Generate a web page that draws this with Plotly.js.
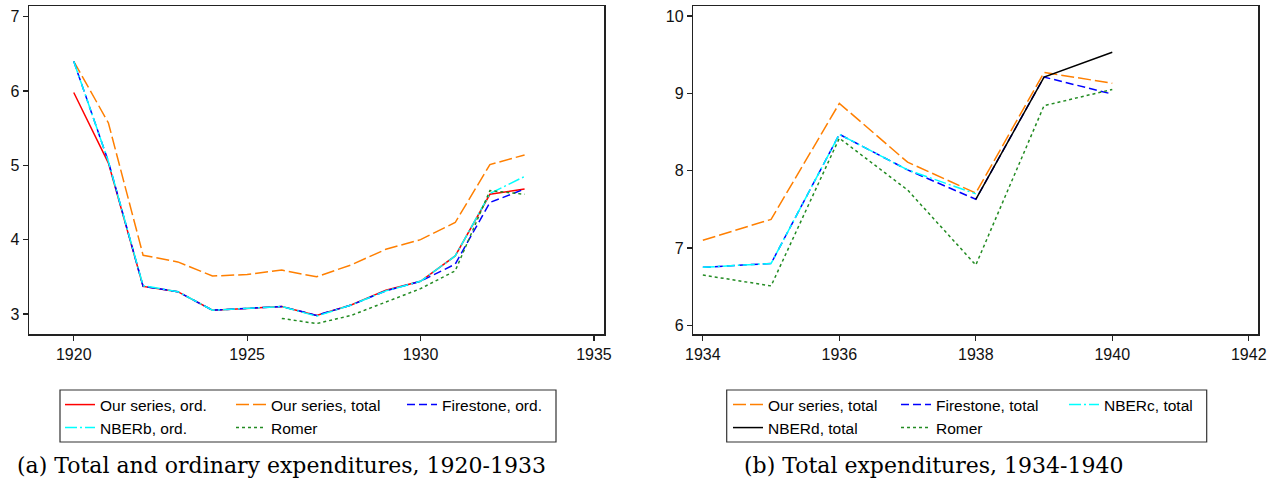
<!DOCTYPE html>
<html>
<head>
<meta charset="utf-8">
<script src="https://cdn.plot.ly/plotly-3.0.1.min.js"></script>
<style>html,body{margin:0;padding:0;background:#fff;}#chart{width:1280px;height:483px;}</style>
</head>
<body>
<div id="chart"></div>
<script>
// ---- Panel (a): 1920-1933 ----
var yearsA = [1920,1921,1922,1923,1924,1925,1926,1927,1928,1929,1930,1931,1932,1933];
var ourOrdA = [5.98,5.03,3.37,3.30,3.05,3.07,3.10,2.98,3.12,3.32,3.44,3.78,4.61,4.68];
var ourTotA = [6.40,5.57,3.79,3.70,3.51,3.53,3.59,3.50,3.66,3.87,4.00,4.23,5.01,5.14];
var firestoneOrdA = [6.40,5.05,3.37,3.30,3.05,3.07,3.10,2.98,3.12,3.31,3.44,3.67,4.50,4.68];
var nberbOrdA = [6.40,5.05,3.38,3.30,3.05,3.07,3.10,2.97,3.12,3.31,3.44,3.78,4.62,4.85];
var romerYearsA = [1926,1927,1928,1929,1930,1931,1932,1933];
var romerA = [2.94,2.87,2.98,3.16,3.34,3.58,4.66,4.61];

// ---- Panel (b): 1934-1940 ----
var yearsB = [1934,1935,1936,1937,1938,1939,1940];
var ourTotB = [7.10,7.37,8.87,8.11,7.71,9.27,9.13];
var firestoneTotB = [6.75,6.80,8.47,8.01,7.63,9.21,8.99];
var nbercYearsB = [1934,1935,1936,1937,1938];
var nbercTotB = [6.75,6.80,8.47,8.01,7.70];
var nberdYearsB = [1938,1939,1940];
var nberdTotB = [7.63,9.21,9.53];
var romerB = [6.65,6.51,8.42,7.75,6.78,8.84,9.05];

var ticksXA = [1920,1925,1930,1935];
var ticksYA = [3,4,5,6,7];
var ticksXB = [1934,1936,1938,1940,1942];
var ticksYB = [6,7,8,9,10];

var captionA = '(a) Total and ordinary expenditures, 1920-1933';
var captionB = '(b) Total expenditures, 1934-1940';

var C = {red:'#ff0000', orange:'#ff7f00', blue:'#0000ff', cyan:'#00ffff', green:'#228b22', black:'#000000'};
var D = {solid:'solid', long:'13px,4px', dash:'8px,4px', dashdot:'12px,3px,2px,3px', dot:'3px,3px'};
var LW = 1.5;

function tr(x, y, name, color, dash, xa, ya, leg) {
  return {x:x, y:y, name:name, type:'scatter', mode:'lines',
    line:{color:color, dash:dash, width:LW}, xaxis:xa, yaxis:ya, legend:leg, hoverinfo:'skip'};
}

var data = [
  tr(yearsA, ourOrdA, 'Our series, ord.', C.red, D.solid, 'x', 'y', 'legend'),
  tr(yearsA, ourTotA, 'Our series, total', C.orange, D.long, 'x', 'y', 'legend'),
  tr(yearsA, firestoneOrdA, 'Firestone, ord.', C.blue, D.dash, 'x', 'y', 'legend'),
  tr(yearsA, nberbOrdA, 'NBERb, ord.', C.cyan, D.dashdot, 'x', 'y', 'legend2'),
  tr(romerYearsA, romerA, 'Romer', C.green, D.dot, 'x', 'y', 'legend2'),
  tr(yearsB, ourTotB, 'Our series, total', C.orange, D.long, 'x2', 'y2', 'legend3'),
  tr(yearsB, firestoneTotB, 'Firestone, total', C.blue, D.dash, 'x2', 'y2', 'legend3'),
  tr(nbercYearsB, nbercTotB, 'NBERc, total', C.cyan, D.dashdot, 'x2', 'y2', 'legend3'),
  tr(nberdYearsB, nberdTotB, 'NBERd, total', C.black, D.solid, 'x2', 'y2', 'legend4'),
  tr(yearsB, romerB, 'Romer', C.green, D.dot, 'x2', 'y2', 'legend4')
];

var W = 1280, H = 483;
function px(x){return x / W;}
function py(y){return 1 - y / H;}

var tickFont = {family:'Liberation Sans, Arial, sans-serif', size:16, color:'#111'};
function axis(domain, range, tickvals, anchor) {
  return {domain:domain, range:range, tickvals:tickvals, anchor:anchor,
    showline:true, mirror:true, linecolor:'#222', linewidth:1.5,
    ticks:'outside', ticklen:5, tickwidth:1.2, tickcolor:'#222',
    showgrid:false, zeroline:false, tickfont:tickFont, fixedrange:true};
}

var legFont = {family:'Liberation Sans, Arial, sans-serif', size:15.5, color:'#000'};
function leg(x, y, ew) {
  return {x:x, y:y, xanchor:'left', yanchor:'middle', orientation:'h',
    entrywidth:ew, entrywidthmode:'pixels', itemwidth:30,
    bgcolor:'rgba(0,0,0,0)', borderwidth:0, font:legFont, traceorder:'normal'};
}

var yDom = [py(334), py(6.3)];
var layout = {
  width:W, height:H, margin:{l:0, r:0, t:0, b:0},
  paper_bgcolor:'#fff', plot_bgcolor:'#fff', showlegend:true,
  xaxis: axis([px(29), px(604)], [1918.71, 1935.29], ticksXA, 'y'),
  yaxis: axis(yDom, [2.73, 7.14], ticksYA, 'x'),
  xaxis2: axis([px(693.3), px(1258.3)], [1933.86, 1942.14], ticksXB, 'y2'),
  yaxis2: axis(yDom, [5.888, 10.125], ticksYB, 'x2'),
  legend: leg(px(60), py(405), 126),
  legend2: leg(px(60), py(428), 126),
  legend3: leg(px(728), py(405), 123),
  legend4: leg(px(728), py(428), 123),
  shapes: [
    {type:'rect', xref:'paper', yref:'paper', x0:px(60), x1:px(556), y0:py(442), y1:py(390), line:{color:'#333', width:1.2}},
    {type:'rect', xref:'paper', yref:'paper', x0:px(726.7), x1:px(1206.7), y0:py(442), y1:py(390), line:{color:'#333', width:1.2}}
  ],
  annotations: [
    {text:captionA, xref:'paper', yref:'paper', x:px(281), y:py(465), xanchor:'center', yanchor:'middle', showarrow:false,
     font:{family:'DejaVu Serif, serif', size:22, color:'#000'}},
    {text:captionB, xref:'paper', yref:'paper', x:px(934), y:py(465), xanchor:'center', yanchor:'middle', showarrow:false,
     font:{family:'DejaVu Serif, serif', size:22, color:'#000'}}
  ]
};

Plotly.newPlot('chart', data, layout, {staticPlot:true, displayModeBar:false});
</script>
</body>
</html>
